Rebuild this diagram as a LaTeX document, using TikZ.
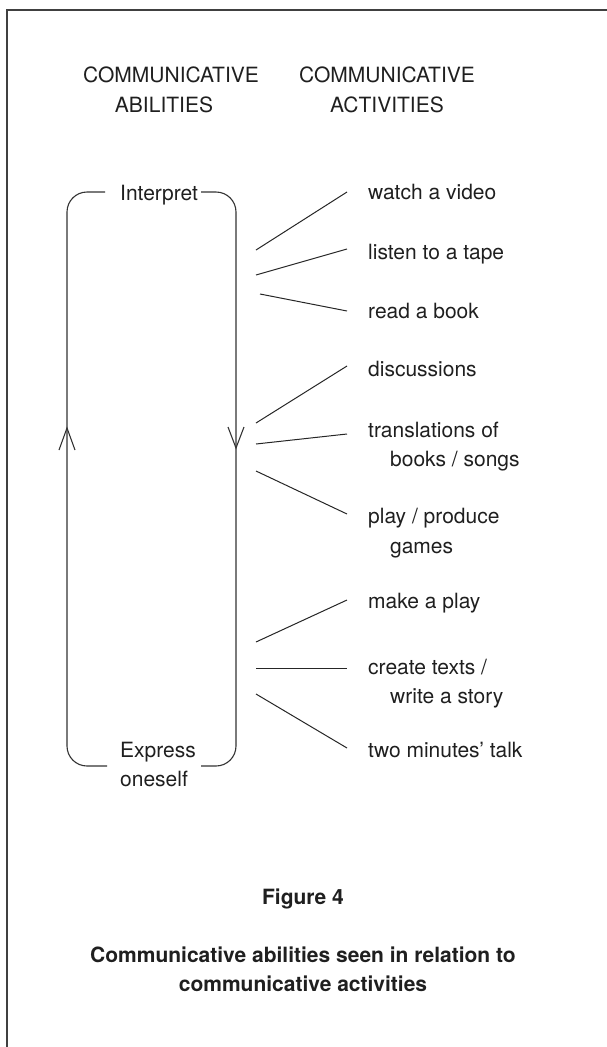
\documentclass[tikz,border=0pt]{standalone}
\usepackage{fontspec}
\setmainfont{TeX Gyre Heros}
\begin{document}
\begin{tikzpicture}[x=1pt,y=-1pt,
  txt/.style={inner sep=0pt,anchor=base west,text=black!88,
    font=\fontsize{21}{25}\selectfont},
  ctxt/.style={txt,anchor=base},
  btxt/.style={ctxt,font=\fontsize{21}{25}\selectfont\bfseries},
  frame/.style={draw=black!75,line width=2pt},
  loop/.style={draw=black!80,line width=1.1pt,rounded corners=20pt},
  link/.style={draw=black!85,line width=1pt},
  tip/.style={draw=black!80,line width=1.1pt}]
\useasboundingbox (0,0) rectangle (607,1047);

% open frame: top and left edges only
\draw[frame] (607,9.5) -- (6.5,9.5) -- (6.5,1047);

% column headings
\node[ctxt] (hAl1) at (171,82) {COMMUNICATIVE};
\node[ctxt] (hAl2) at (164,112) {ABILITIES};
\node[ctxt] (hAc1) at (387,82) {COMMUNICATIVE};
\node[ctxt] (hAc2) at (387,112) {ACTIVITIES};

% the cycle between interpreting and expressing
\node[txt] (interp) at (120,200) {Interpret};
\node[txt] (expr) at (120,757) {Express};
\node[txt] (ones) at (120,786) {oneself};

\draw[loop] (105,192) -- (67,192) -- (67,766) -- (107,766);
\draw[loop] (201,192) -- (236,192) -- (236,766) -- (201,766);

% open arrowheads on the two sides of the cycle
\coordinate (lt) at (67,428);
\coordinate (rt) at (236,448);
\draw[tip] (59,450) -- (lt) -- (75,450);
\draw[tip] (228,427) -- (rt) -- (244,427);

% activities
\node[txt] (a1) at (368,199) {watch a video};
\node[txt] (a2) at (368,259) {listen to a tape};
\node[txt] (a3) at (368,318) {read a book};
\node[txt] (a4) at (368,376) {discussions};
\node[txt] (a5) at (368,437) {translations of};
\node[txt] (a5b) at (390,466) {books / songs};
\node[txt] (a6) at (368,523) {play / produce};
\node[txt] (a6b) at (390,553) {games};
\node[txt] (a7) at (368,608) {make a play};
\node[txt] (a8) at (368,674) {create texts /};
\node[txt] (a8b) at (390,703) {write a story};
\node[txt] (a9) at (368,757) {two minutes' talk};

% connecting strokes
\coordinate (s1) at (256,250);  \coordinate (e1) at (347,192);
\coordinate (s2) at (256,275);  \coordinate (e2) at (347,249);
\coordinate (s3) at (260,294);  \coordinate (e3) at (347,311);
\coordinate (s4) at (256,423);  \coordinate (e4) at (347,366);
\coordinate (s5) at (256,444);  \coordinate (e5) at (347,434);
\coordinate (s6) at (256,471);  \coordinate (e6) at (347,514);
\coordinate (s7) at (256,642);  \coordinate (e7) at (347,600);
\coordinate (s8) at (256,668);  \coordinate (e8) at (347,668);
\coordinate (s9) at (256,694);  \coordinate (e9) at (347,748);
\foreach \i in {1,...,9} \draw[link] (s\i) -- (e\i);

% caption
\node[btxt] (fig) at (303,904) {Figure 4};
\node[btxt] (cap1) at (303,962) {Communicative abilities seen in relation to};
\node[btxt] (cap2) at (303,991) {communicative activities};
\end{tikzpicture}
\end{document}
